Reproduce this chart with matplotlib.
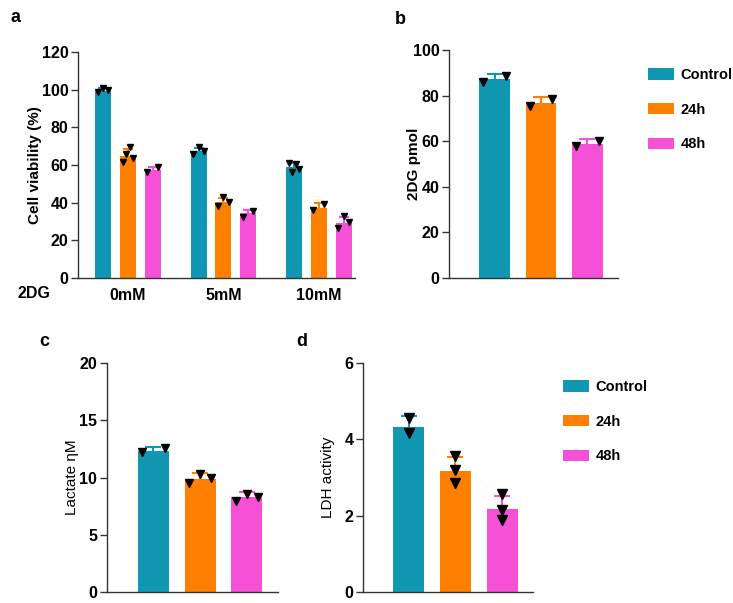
import numpy as np
import matplotlib
matplotlib.use("Agg")
import matplotlib.pyplot as plt
from matplotlib.patches import Patch

plt.rcParams['font.family'] = ['Liberation Sans', 'DejaVu Sans']

# ---------------- data ----------------
groups = ["Control", "24h", "48h"]
colors = ["#1297B2", "#FF8000", "#F550D6"]

# panel a: cell viability
a_conc = ["0mM", "5mM", "10mM"]
a_mean = {
    "Control": [99.5, 67.6, 59.0],
    "24h": [65.0, 40.5, 37.4],
    "48h": [57.5, 34.4, 29.3],
}
a_sd = {
    "Control": [1.2, 1.5, 1.8],
    "24h": [3.5, 2.2, 2.3],
    "48h": [1.5, 1.8, 3.0],
}
a_points = {
    "Control": [[98.5, 100.8, 99.8], [65.8, 69.7, 67.6], [61.2, 56.5, 60.5, 57.9]],
    "24h": [[61.5, 66.0, 69.5, 63.5], [38.3, 43.2, 40.2], [36.2, 39.4]],
    "48h": [[56.5, 59.0], [32.6, 35.5], [26.8, 33.0, 29.5]],
}

# panel b: 2DG uptake
b_mean = [87.3, 76.9, 58.8]
b_sd = [2.2, 2.6, 2.0]
b_points = [[86.1, 88.6], [75.5, 78.7], [57.7, 59.9]]

# panel c: lactate
c_mean = [12.35, 9.85, 8.28]
c_sd = [0.35, 0.55, 0.45]
c_points = [[12.2, 12.6], [9.55, 10.3, 10.0], [7.97, 8.6, 8.3]]

# panel d: LDH activity
d_mean = [4.33, 3.18, 2.17]
d_sd = [0.28, 0.37, 0.34]
d_points = [[4.55, 4.16], [3.56, 3.2, 2.86], [2.57, 2.16, 1.88]]

# ---------------- figure ----------------
W, H = 733, 603
fig = plt.figure(figsize=(W / 100, H / 100), dpi=100)


def ax_px(left, right, bottom, top):
    return fig.add_axes([left / W, 1 - bottom / H, (right - left) / W, (bottom - top) / H])


spine_col = "#333333"
TICK_FS = 11.5


def style_ax(ax):
    for s in ["top", "right"]:
        ax.spines[s].set_visible(False)
    for s in ["left", "bottom"]:
        ax.spines[s].set_color(spine_col)
        ax.spines[s].set_linewidth(1.0)
    ax.tick_params(axis="y", direction="out", length=5, width=1, color=spine_col,
                   labelsize=TICK_FS, pad=2)
    for lab in ax.get_yticklabels():
        lab.set_fontweight("bold")


def set_ylabel_px(ax, text, weight, center_px, left_px, right_px):
    ax.set_ylabel(text, fontsize=11, fontweight=weight)
    ax.yaxis.label.set_va("center")
    ax.yaxis.set_label_coords((center_px - left_px) / (right_px - left_px), 0.5)


def draw_bar(ax, x, mean, sd, pts, color, width, capsize, ms, jitter=0.36):
    ax.bar(x, mean, width=width, color=color, edgecolor="none", zorder=2)
    ax.errorbar(x, mean, yerr=sd, fmt="none", ecolor=color, elinewidth=1.5,
                capsize=capsize, capthick=1.5, zorder=3)
    n = len(pts)
    if jitter > 0 and n > 1:
        offs = np.linspace(-jitter, jitter, n) * width
    else:
        offs = np.zeros(n)
    ax.plot(x + offs, pts, linestyle="none", marker="v", color="black",
            markersize=ms, zorder=4)


# ---- panel a ----
axa = ax_px(78, 355, 278, 52)
bw_a = 0.168
off_a = [-0.26, 0.0, 0.26]
for gi, g in enumerate(groups):
    for ci in range(len(a_conc)):
        draw_bar(axa, ci + off_a[gi], a_mean[g][ci], a_sd[g][ci], a_points[g][ci],
                 colors[gi], bw_a, 3.5, 4.8, jitter=0.33)
axa.set_xlim(-0.524, 2.38)
axa.set_ylim(0, 120)
axa.set_yticks([0, 20, 40, 60, 80, 100, 120])
axa.set_xticks(range(len(a_conc)))
axa.set_xticklabels(a_conc, fontweight="bold", fontsize=TICK_FS)
axa.tick_params(axis="x", length=0, pad=7)
style_ax(axa)
set_ylabel_px(axa, "Cell viability (%)", "bold", 35, 78, 355)
fig.text(17 / W, 1 - 293 / H, "2DG", fontsize=TICK_FS, fontweight="bold",
         va="center", ha="left")


# ---- panels b, c, d ----
def simple_panel(box, mean, sd, pts, ylim, yticks, ylabel, ylw, lab_x, jitter, ms):
    ax = ax_px(*box)
    for i in range(3):
        draw_bar(ax, i, mean[i], sd[i], pts[i], colors[i], 0.66, 6, ms, jitter=jitter)
    ax.set_xlim(-0.98, 2.66)
    ax.set_ylim(*ylim)
    ax.set_yticks(yticks)
    ax.set_xticks([])
    style_ax(ax)
    set_ylabel_px(ax, ylabel, ylw, lab_x, box[0], box[1])
    return ax


axb = simple_panel((449, 618, 278, 50), b_mean, b_sd, b_points, (0, 100),
                   [0, 20, 40, 60, 80, 100], "2DG pmol", "bold", 414, 0.37, 5.5)
axc = simple_panel((107, 278, 592, 363), c_mean, c_sd, c_points, (0, 20),
                   [0, 5, 10, 15, 20], "Lactate ηM", "normal", 72, 0.37, 5.5)
axd = simple_panel((363, 533, 592, 363), d_mean, d_sd, d_points, (0, 6),
                   [0, 2, 4, 6], "LDH activity", "normal", 328, 0.0, 6.5)

# ---- legends ----
handles = [Patch(facecolor=c, edgecolor="none", label=g) for c, g in zip(colors, groups)]
for (lx, ly) in [(648, 68), (563, 380)]:
    fig.legend(handles=handles, loc="upper left", bbox_to_anchor=(lx / W, 1 - ly / H),
               frameon=False, prop={"weight": "bold", "size": 10.5},
               handlelength=1.75, handleheight=0.85, handletextpad=0.5,
               labelspacing=1.42, borderpad=0, borderaxespad=0)

# ---- panel letters ----
for lab, x, y in [("a", 15, 18), ("b", 400, 19), ("c", 44, 342), ("d", 302, 342)]:
    fig.text(x / W, 1 - y / H, lab, fontsize=13, fontweight="bold", ha="center", va="center")

fig.savefig("out.png", dpi=100)
